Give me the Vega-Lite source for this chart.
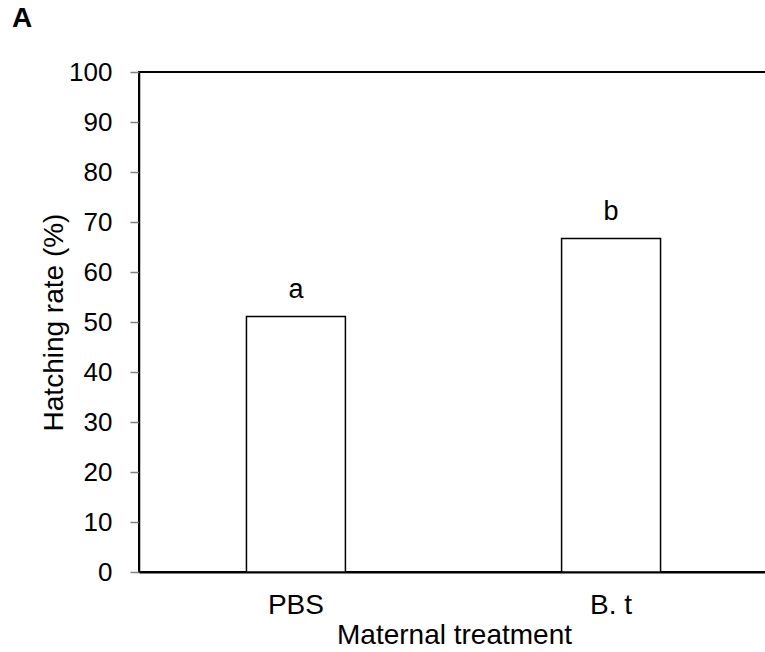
{
  "$schema": "https://vega.github.io/schema/vega-lite/v6.json",
  "width": 629,
  "height": 500,
  "autosize": "none",
  "padding": {"left": 139, "top": 72, "right": 0, "bottom": 80},
  "background": "white",
  "title": {
    "text": "A",
    "anchor": "start",
    "frame": "bounds",
    "dx": -28,
    "offset": 26,
    "fontSize": 28,
    "fontWeight": "bold",
    "font": "Liberation Sans",
    "color": "black"
  },
  "data": {
    "values": [
      {"treatment": "PBS", "rate": 51.1, "letter": "a"},
      {"treatment": "B. t", "rate": 66.7, "letter": "b"}
    ]
  },
  "encoding": {
    "x": {
      "field": "treatment",
      "type": "nominal",
      "sort": null,
      "scale": {"paddingInner": 0.686, "paddingOuter": 0.341},
      "axis": {
        "ticks": false,
        "domainColor": "black",
        "domainWidth": 2,
        "labelAngle": 0,
        "labelFont": "Liberation Sans",
        "labelFontSize": 28,
        "labelColor": "black",
        "labelPadding": 19,
        "title": "Maternal treatment",
        "titleFont": "Liberation Sans",
        "titleFontSize": 28,
        "titleFontWeight": "normal",
        "titleColor": "black",
        "titleX": 315,
        "titleY": 71,
        "titleBaseline": "alphabetic",
        "titleAlign": "center"
      }
    },
    "y": {
      "field": "rate",
      "type": "quantitative",
      "scale": {"domain": [0, 100], "nice": false},
      "axis": {
        "values": [0, 10, 20, 30, 40, 50, 60, 70, 80, 90, 100],
        "grid": false,
        "domainColor": "black",
        "domainWidth": 1.5,
        "tickColor": "#808080",
        "tickSize": 9,
        "tickWidth": 1.5,
        "labelFont": "Liberation Sans",
        "labelFontSize": 26,
        "labelColor": "black",
        "labelPadding": 18,
        "title": "Hatching rate (%)",
        "titleFont": "Liberation Sans",
        "titleFontSize": 28,
        "titleFontWeight": "normal",
        "titleColor": "black",
        "titleX": -77,
        "titleY": 250,
        "titleAngle": 270,
        "titleBaseline": "alphabetic",
        "titleAlign": "center"
      }
    }
  },
  "layer": [
    {"mark": {"type": "bar", "fill": "white", "stroke": "black", "strokeWidth": 1.5}},
    {
      "mark": {"type": "text", "dy": -19, "baseline": "alphabetic", "align": "center", "font": "Liberation Sans", "fontSize": 27, "color": "black"},
      "encoding": {"text": {"field": "letter"}}
    }
  ],
  "config": {"view": {"stroke": "black", "strokeWidth": 2}}
}
